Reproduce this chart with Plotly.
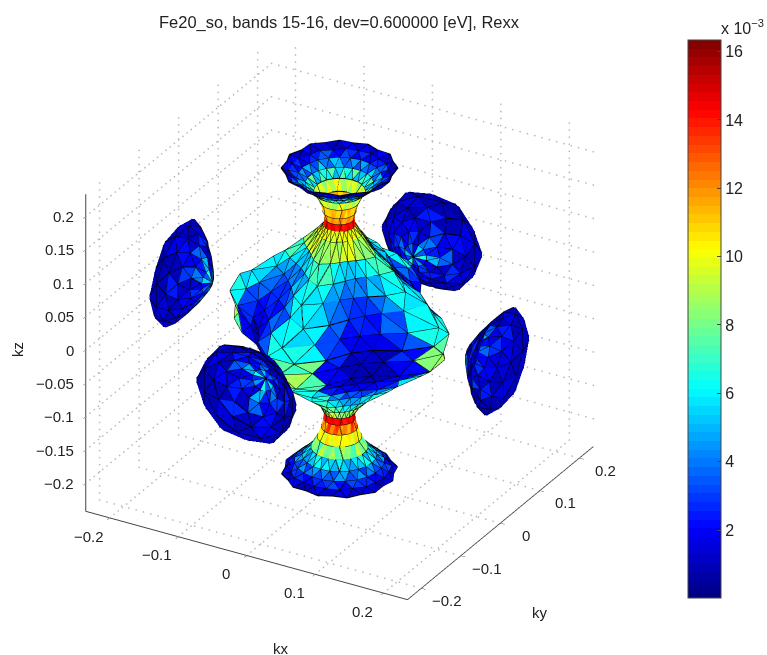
import math
import numpy as np
import plotly.graph_objects as go

# ---- data (k-space units; colour in units of 1e-3) ----
BODY_Z = [.224,.216,.209,.200,.190,.175,.160,.150,.140,.128,.105,.085,.065,.045,.025,.008,
          -.012,-.032,-.052,-.072,-.092,-.112,-.128,-.140,-.150,-.163,-.178,-.193,-.205,-.214,-.222,-.229]
# radius at six azimuths of one quadrant, repeated round the four-fold shape
BODY_R = [
 [.073,.069,.074,.070,.074,.068],[.064,.066,.062,.065,.062,.066],[.055,.054,.055,.054,.055,.054],
 [.044,.044,.044,.044,.044,.044],[.033,.033,.033,.033,.033,.033],[.025,.025,.025,.025,.025,.025],
 [.021,.021,.021,.021,.021,.021],[.019,.019,.019,.019,.019,.019],[.020,.020,.020,.020,.020,.020],
 [.030,.028,.027,.026,.027,.028],[.052,.046,.041,.039,.041,.046],[.074,.063,.055,.052,.055,.063],
 [.096,.082,.070,.067,.070,.082],[.120,.102,.087,.083,.087,.102],[.145,.122,.103,.098,.103,.122],
 [.150,.130,.110,.110,.130,.150],[.151,.132,.112,.105,.112,.132],[.144,.124,.106,.106,.124,.144],
 [.122,.106,.091,.086,.091,.106],[.092,.080,.071,.071,.080,.092],[.070,.060,.055,.052,.055,.060],
 [.043,.040,.037,.037,.040,.043],[.028,.026,.025,.025,.025,.026],[.020,.020,.020,.020,.020,.020],
 [.020,.020,.020,.020,.020,.020],[.023,.023,.023,.023,.023,.023],[.028,.028,.028,.028,.028,.028],
 [.036,.036,.036,.036,.036,.036],[.047,.047,.047,.047,.047,.047],[.057,.057,.057,.057,.057,.057],
 [.065,.064,.066,.063,.066,.064],[.073,.069,.074,.070,.074,.069]]
BODY_CA = [
 [1.2,1.8,1.0,1.5,2.0,1.2],[2.8,1.8,3.4,2.4,1.8,2.8],[4.4,3.4,5.2,4.0,3.2,4.8],[6.4,5.4,7.6,6.6,5.2,7.8],
 [9.6,8.4,10.2,9.0,8.2,9.8],[11.2,10.8,11.4,11.6,10.8,11.0],[12.0,11.6,12.2,11.6,12.2,11.4],[14.0,14.6,13.8,14.4,14.2,14.8],
 [10.0,9.6,10.0,10.2,9.6,9.8],[9.0,8.6,9.6,9.8,8.4,8.8],[6.8,6.2,5.6,5.2,6.0,7.0],[6.2,5.0,4.2,3.8,4.8,6.4],
 [6.0,4.2,3.2,2.8,3.8,6.2],[6.0,3.6,2.6,2.2,3.2,6.2],[6.6,3.2,1.8,1.6,2.8,6.6],[8.0,2.6,1.2,1.0,2.2,7.6],
 [8.8,2.0,0.9,0.8,1.8,8.2],[7.2,1.8,1.0,0.9,1.6,6.8],[6.4,2.4,1.8,1.6,2.2,5.8],[6.8,4.4,3.4,3.0,4.0,6.2],
 [7.0,5.8,4.8,4.6,5.6,6.6],[8.0,7.2,6.0,5.8,7.0,7.6],[9.2,8.8,8.4,8.2,8.6,9.0],[14.0,14.6,13.8,14.4,14.2,14.8],
 [12.0,13.5,11.6,12.2,11.2,13.8],[10.4,9.8,10.0,10.6,9.6,10.2],[8.0,7.2,9.0,8.4,7.0,8.6],[5.4,6.2,4.8,5.8,6.4,5.0],
 [4.2,3.4,4.8,3.6,3.0,4.4],[3.0,2.2,3.2,2.6,2.0,2.8],[1.6,1.1,1.8,1.2,1.5,1.0]]
BODY_CB = [
 [1.8,1.0,1.5,1.2,1.0,2.0],[2.0,3.2,2.2,3.4,2.6,1.6],[3.6,5.0,3.6,5.4,3.8,3.2],[5.6,7.4,5.0,6.0,7.2,5.0],
 [8.6,10.0,8.8,10.4,9.4,8.4],[11.6,10.8,11.8,10.6,11.0,10.8],[11.6,12.2,11.2,12.0,11.6,12.2],[14.6,13.8,14.4,14.0,14.8,14.2],
 [9.6,10.0,9.8,10.0,10.2,9.6],[8.4,9.0,9.4,9.8,8.8,8.2],[7.2,5.8,5.2,5.6,6.4,7.2],[5.8,4.6,3.8,4.2,5.2,6.0],
 [5.6,3.8,2.8,3.0,4.4,5.8],[5.4,3.2,2.2,2.4,3.8,6.0],[6.0,2.8,1.6,1.8,3.4,6.2],[7.0,2.2,1.0,1.2,2.8,8.2],
 [7.4,1.8,0.8,0.9,2.2,8.8],[6.4,1.6,0.9,1.0,2.0,7.0],[5.6,2.2,1.6,1.8,2.6,6.2],[6.2,4.0,3.0,3.2,4.4,6.6],
 [6.6,5.4,4.6,4.8,6.0,7.0],[7.6,6.8,5.8,6.2,7.2,8.0],[9.0,8.6,8.2,8.4,8.8,9.4],[14.4,14.0,14.8,13.8,14.6,14.2],
 [13.0,11.8,12.4,11.4,13.4,12.0],[9.6,10.4,10.2,10.0,9.8,10.8],[8.8,7.6,8.2,7.4,9.2,7.8],[6.0,5.0,5.6,4.6,5.2,6.2],
 [3.4,4.6,3.2,4.4,4.0,3.2],[2.4,3.2,2.0,3.0,2.6,2.0],[1.2,1.8,1.1,1.6,1.0,1.4]]
NECK_RINGS = [4, 5, 6, 7, 8, 23, 24, 25, 26, 27]

LUMP_D = [.236,.230,.222,.212,.202,.193,.186]
LUMP_R = [.074,.067,.056,.044,.030,.016,.0]
LUMP_RIM = [.074,.070,.075,.071,.074,.069,.075,.072,.074,.070,.075,.071]
LUMP_C = [
 [0.8,1.2,0.8,0.7,1.0,0.8,1.2,0.8,0.7,1.0,0.8,1.2],
 [1.2,0.8,1.6,1.0,0.8,1.4,0.8,1.6,1.0,0.8,1.4,0.8],
 [1.6,2.4,1.0,2.0,0.9,2.6,1.2,2.2,0.9,2.4,1.0,1.4],
 [2.8,1.6,3.4,1.4,2.4,1.2,3.6,1.8,3.0,1.2,2.0,1.4],
 [3.8,2.2,4.8,1.8,3.0,1.6,5.0,2.4,4.0,1.4,2.8,2.0],
 [5.2,3.2,6.2,2.6,4.4,2.2,6.6,3.4,5.4,2.0,3.8,2.6]]
LUMP_AXES = ["+x", "-x", "+y", "-y"]

X_TICKS = [-.2, -.1, 0, .1, .2]
Y_TICKS = [-.2, -.1, 0, .1, .2]
Z_TICKS = [-.2, -.15, -.1, -.05, 0, .05, .1, .15, .2]
X_LABELS = ["\u22120.2", "\u22120.1", "0", "0.1", "0.2"]
Y_LABELS = ["\u22120.2", "\u22120.1", "0", "0.1", "0.2"]
Z_LABELS = ["\u22120.2", "\u22120.15", "\u22120.1", "\u22120.05", "0", "0.05", "0.1", "0.15", "0.2"]
X_RANGE = [-.235, .235]
Y_RANGE = [-.235, .235]
Z_RANGE = [-.242, .233]
CBAR_TICKS = [2, 4, 6, 8, 10, 12, 14, 16]
CMIN, CMAX = 0.01, 16.34
TITLE = "Fe20_so, bands 15-16, dev=0.600000 [eV], Rexx"

# ---- jet, 64 flat steps ----
def jet(i, n=64):
    t = (i + .5) / n
    f = lambda a: min(max(1.5 - abs(4 * t - a), 0), 1)
    return "rgb(%d,%d,%d)" % (255 * f(3), 255 * f(2), 255 * f(1))
scale = []
for i in range(64):
    scale += [[i / 64, jet(i)], [(i + 1) / 64, jet(i)]]

# ---- assemble triangles from the ring tables ----
VX, VY, VZ, FI, FJ, FK, FC = [], [], [], [], [], [], []

def add_rings(rows, n, place):
    base = len(VX)
    for i, (d, radii) in enumerate(rows):
        for j in range(n):
            a = 2 * math.pi * (j + (.5 if i % 2 else 0)) / n
            p = place(d, radii[j % len(radii)], a)
            VX.append(p[0]); VY.append(p[1]); VZ.append(p[2])
    return base

def add_faces(base, nrows, n, ca, cb, roll=0):
    for i in range(nrows - 1):
        for j in range(n):
            a = base + i * n + j
            b = base + i * n + (j + 1) % n
            c = base + (i + 1) * n + j
            d = base + (i + 1) * n + (j + 1) % n
            A, B = ca[i], cb[i]
            if i % 2 == 0:
                FI.extend([a, b]); FJ.extend([b, d]); FK.extend([c, c])
            else:
                FI.extend([a, a]); FJ.extend([b, d]); FK.extend([d, c])
            FC.append(A[(j + roll) % len(A)])
            FC.append(B[(j + roll) % len(B)])

rows = [(z, r) for z, r in zip(BODY_Z, BODY_R)]
base = add_rings(rows, 24, lambda d, r, a: (r * math.cos(a), r * math.sin(a), d))
add_faces(base, len(rows), 24, BODY_CA, BODY_CB)
body_count = len(VX)

lump_rows = [(LUMP_D[0], LUMP_RIM)] + [(d, [r]) for d, r in zip(LUMP_D[1:], LUMP_R[1:])]
for k, name in enumerate(LUMP_AXES):
    s = 1 if name[0] == "+" else -1
    if name[1] == "x":
        place = lambda d, r, a, s=s: (s * d, r * math.cos(a), r * math.sin(a))
    else:
        place = lambda d, r, a, s=s: (r * math.cos(a), s * d, r * math.sin(a))
    base = add_rings(lump_rows, 12, place)
    add_faces(base, len(lump_rows), 12, LUMP_C, LUMP_C, roll=k * 3 + 1)

# edges drawn from the same triangles; the neck has sparser facets in the reference
def keep_edge(p, q):
    if p >= body_count or q >= body_count:
        return True
    ip, jp, iq, jq = p // 24, p % 24, q // 24, q % 24
    if ip in NECK_RINGS and iq in NECK_RINGS:
        return ip == iq or (jp == jq and jp % 4 == 0)
    return True

seen = set()
ex, ey, ez = [], [], []
for a, b, c in zip(FI, FJ, FK):
    for p, q in ((a, b), (b, c), (c, a)):
        key = (min(p, q), max(p, q))
        if key in seen:
            continue
        seen.add(key)
        if keep_edge(p, q):
            ex += [VX[p], VX[q], None]; ey += [VY[p], VY[q], None]; ez += [VZ[p], VZ[q], None]

# dotted back walls from the tick lists
gx, gy, gz = [], [], []
DOT = .0105
def seg(p, q):
    n = int(max(abs(q[i] - p[i]) for i in range(3)) / DOT)
    for s in range(n + 1):
        t = s / n
        gx.append(p[0] + (q[0] - p[0]) * t); gy.append(p[1] + (q[1] - p[1]) * t); gz.append(p[2] + (q[2] - p[2]) * t)
x0, x1 = X_RANGE; y0, y1 = Y_RANGE; z0, z1 = Z_RANGE
for t in X_TICKS:
    seg((t, y0, z0), (t, y1, z0)); seg((t, y1, z0), (t, y1, z1))
for t in Y_TICKS:
    seg((x0, t, z0), (x1, t, z0)); seg((x0, t, z0), (x0, t, z1))
for t in Z_TICKS:
    seg((x0, y0, t), (x0, y1, t)); seg((x0, y1, t), (x1, y1, t))

FONT = "Liberation Sans"
TICKFONT = dict(family=FONT, size=15, color="#222")
axis = dict(showgrid=False, zeroline=False, showbackground=False, showspikes=False, showline=True,
            linecolor="#444", linewidth=2, ticks="outside", ticklen=5, tickcolor="#444",
            showticklabels=False, title=dict(text=""))

# tick labels as real text pinned to the scene's own data coordinates
scene_notes = []
for t, s in zip(X_TICKS, X_LABELS):
    scene_notes.append(dict(x=t, y=y0, z=z0, text=s, showarrow=False, xanchor="center", yanchor="middle",
                            xshift=-21, yshift=-18, font=TICKFONT))
for t, s in zip(Y_TICKS, Y_LABELS):
    scene_notes.append(dict(x=x1, y=t, z=z0, text=s, showarrow=False, xanchor="center", yanchor="middle",
                            xshift=26, yshift=-12, font=TICKFONT))
for t, s in zip(Z_TICKS, Z_LABELS):
    scene_notes.append(dict(x=x0, y=y0, z=t, text=s, showarrow=False, xanchor="right", yanchor="middle",
                            xshift=-10, yshift=0, font=TICKFONT))

fig = go.Figure()
fig.add_trace(go.Scatter3d(x=gx, y=gy, z=gz, mode="markers", hoverinfo="skip", showlegend=False,
                           marker=dict(color="#bbb", size=1, line=dict(width=0))))
fig.add_trace(go.Mesh3d(x=VX, y=VY, z=VZ, i=FI, j=FJ, k=FK, intensity=FC, intensitymode="cell",
                        colorscale=scale, cmin=CMIN, cmax=CMAX, flatshading=True, hoverinfo="skip",
                        lighting=dict(ambient=1, diffuse=0, specular=0, roughness=1, fresnel=0),
                        colorbar=dict(thicknessmode="pixels", thickness=33, lenmode="pixels", len=558,
                                      xref="paper", yref="paper", x=688 / 767, xanchor="left",
                                      y=(655 - 40) / 655, yanchor="top", xpad=0, ypad=0,
                                      outlinecolor="#444", outlinewidth=1, ticks="inside", ticklen=4,
                                      tickcolor="#444", tickvals=CBAR_TICKS,
                                      tickfont=dict(family=FONT, size=16, color="#222"))))
fig.add_trace(go.Scatter3d(x=ex, y=ey, z=ez, mode="lines", hoverinfo="skip", showlegend=False,
                           line=dict(color="black", width=2)))

el = math.radians(28.4); az = math.radians(30); R = 1.71
K = 1.17
fig.update_layout(
    width=767, height=655, margin=dict(l=0, r=0, t=0, b=0), paper_bgcolor="white",
    font=dict(family=FONT, color="#222"),
    title=dict(text=TITLE, x=339 / 767, xanchor="center", y=1 - 22 / 655, yanchor="middle",
               font=dict(family=FONT, size=16.5, color="#222")),
    scene=dict(
        domain=dict(x=[0, 679 / 767], y=[0.0254, 0.9954]),
        xaxis=dict(axis, range=X_RANGE, tickvals=X_TICKS),
        yaxis=dict(axis, range=Y_RANGE, tickvals=Y_TICKS),
        zaxis=dict(axis, range=Z_RANGE, tickvals=Z_TICKS),
        annotations=scene_notes,
        aspectmode="manual", aspectratio=dict(x=K, y=K, z=.97 * K),
        camera=dict(projection=dict(type="orthographic"),
                    up=dict(x=0, y=0, z=1), center=dict(x=0, y=0, z=0),
                    eye=dict(x=R * math.sin(az) * math.cos(el), y=-R * math.cos(az) * math.cos(el), z=R * math.sin(el))),
    ),
    annotations=[
        dict(text="kx", x=281 / 767, y=1 - 648 / 655, xref="paper", yref="paper", showarrow=False,
             xanchor="center", yanchor="middle", font=dict(size=15)),
        dict(text="ky", x=540 / 767, y=1 - 612 / 655, xref="paper", yref="paper", showarrow=False,
             xanchor="center", yanchor="middle", font=dict(size=15)),
        dict(text="kz", x=17 / 767, y=1 - 350 / 655, xref="paper", yref="paper", showarrow=False,
             xanchor="center", yanchor="middle", textangle=-90, font=dict(size=15)),
        dict(text="x 10<sup>\u22123</sup>", x=742 / 767, y=1 - 27 / 655, xref="paper", yref="paper", showarrow=False,
             xanchor="center", yanchor="middle", font=dict(size=16)),
    ],
)
fig.write_html("out.html", config=dict(displayModeBar=False),
               post_script="document.body.style.margin='0';document.documentElement.style.overflow='hidden';")
